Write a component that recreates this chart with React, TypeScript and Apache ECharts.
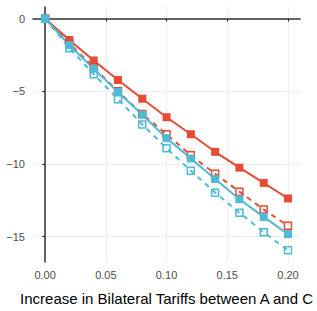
import React, { useEffect, useRef } from "react";
import * as echarts from "echarts";

const xValues = [0, 0.02, 0.04, 0.06, 0.08, 0.1, 0.12, 0.14, 0.16, 0.18, 0.2];
const redSolid = [0, -1.47, -2.88, -4.22, -5.51, -6.78, -7.95, -9.16, -10.25, -11.3, -12.37];
const redDashed = [0, -1.7, -3.37, -5.0, -6.56, -7.95, -9.4, -10.67, -11.9, -13.13, -14.25];
const cyanSolid = [0, -1.83, -3.44, -5.05, -6.61, -8.22, -9.62, -11.03, -12.42, -13.64, -14.82];
const cyanDashed = [0, -2.03, -3.82, -5.54, -7.28, -8.91, -10.46, -11.97, -13.35, -14.69, -15.94];
const xTicks = [0, 0.05, 0.1, 0.15, 0.2];
const yTicks = [-15, -10, -5, 0];
const xTitle = "Increase in Bilateral Tariffs between A and C";

const RED = "#E64B35";
const CYAN = "#4DBBD5";

function pairs(ys: number[]) {
  return ys.map((y, i) => [xValues[i], y]);
}

export default function App() {
  const ref = useRef<HTMLDivElement>(null);
  useEffect(() => {
    if (!ref.current) return;
    const chart = echarts.init(ref.current, undefined, { renderer: "svg" });
    const filled = (name: string, color: string, ys: number[]) => ({
      name,
      type: "line",
      data: pairs(ys),
      symbol: "rect",
      symbolSize: 8,
      lineStyle: { color, width: 2, type: "solid" },
      itemStyle: { color, borderWidth: 0 },
    });
    const open = (name: string, color: string, ys: number[]) => ({
      name,
      type: "line",
      data: pairs(ys),
      symbol: "rect",
      symbolSize: 7,
      lineStyle: { color, width: 2, type: [5, 5] },
      itemStyle: { color: "rgba(0,0,0,0)", borderColor: color, borderWidth: 1.5 },
    });
    chart.setOption({
      animation: false,
      grid: { left: 33, right: 15, top: 7, bottom: 44 },
      xAxis: {
        type: "value",
        min: -0.01,
        max: 0.21,
        name: xTitle,
        nameLocation: "middle",
        nameGap: 29,
        nameTextStyle: { fontFamily: "Liberation Sans", fontSize: 15, color: "#000" },
        axisLine: { show: true, lineStyle: { color: "#333", width: 1.5 } },
        axisTick: { show: true, length: 3, lineStyle: { color: "#333", width: 1.2 }, customValues: xTicks },
        axisLabel: {
          customValues: xTicks,
          margin: 7,
          fontFamily: "Liberation Sans",
          fontSize: 11,
          color: "#4D4D4D",
          formatter: (v: number) => v.toFixed(2),
        },
        splitLine: { show: true, lineStyle: { color: "#EEEEEE", width: 1.2 } },
      },
      yAxis: {
        type: "value",
        min: -16.74,
        max: 0.8,
        axisLine: { show: true, lineStyle: { color: "#333", width: 1.5 } },
        axisTick: { show: true, length: 3, lineStyle: { color: "#333", width: 1.2 }, customValues: yTicks },
        axisLabel: {
          customValues: yTicks,
          margin: 8,
          fontFamily: "Liberation Sans",
          fontSize: 11,
          color: "#4D4D4D",
          formatter: (v: number) => (v < 0 ? "\u2212" + Math.abs(v) : String(v)),
        },
        splitLine: { show: true, lineStyle: { color: "#EEEEEE", width: 1.2 } },
      },
      series: [
        filled("A solid", RED, redSolid),
        open("A dashed", RED, redDashed),
        filled("B solid", CYAN, cyanSolid),
        open("B dashed", CYAN, cyanDashed),
      ],
    });
    return () => chart.dispose();
  }, []);
  return <div ref={ref} style={{ width: 317, height: 311, position: "absolute", left: 0, top: 0 }} />;
}
